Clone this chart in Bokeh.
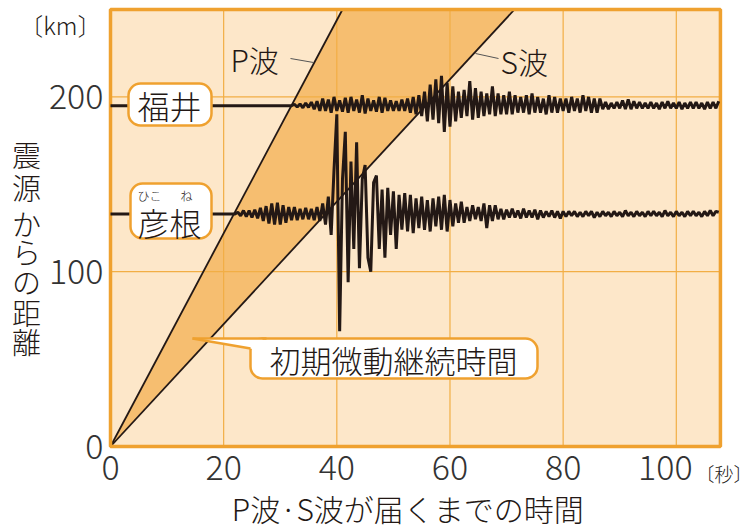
import numpy as np
from bokeh.plotting import figure
from bokeh.models import Label
from bokeh.core.properties import value
from bokeh.embed import file_html
from bokeh.resources import INLINE

# ---------------- data ----------------
x_ticks = [0, 20, 40, 60, 80, 100]
y_ticks = [0, 100, 200]
x_tick_labels = ["0", "20", "40", "60", "80", "100"]
y_tick_labels = ["0", "100", "200"]
x_max = 107.8          # seconds
y_max = 250            # km

# travel-time lines (time s, distance km)
p_wave_t = [0, 41.0]
p_wave_d = [0, 250]
s_wave_t = [0, 71.4]
s_wave_d = [0, 250]

# stations: epicentral distance (km)
station_names = ["福井", "彦根"]
station_dist = [195, 133]

# seismograms: offsets (km on the chart) sampled every 0.5 s from start time
fukui_start = 32.0
fukui_wave = [
    0, 0.8, -0.8, 1, -1.2, 1.5, -1, 2, -2, 2.5, -3, 4, -3, 3.5, -4, 5, -3, 3, -3.5, 4.5,
    -4, 5, -3, 3.5, -4, 6, -4.5, 4, -3, 3, -3.5, 5, -4, 4.5, -3, 3, -3, 2.5, -3, 3.5,
    -3, 4, -4, 5, -5, 6, -6, 8, -9, 12, -8, 15, -10, 17, -15, 13, -12, 11, -9, 8,
    -7, 9, -6, 14, -8, 10, -7, 8, -6, 7, -5, 11, -6, 7, -5, 6, -5, 8, -5, 6,
    -4, 5, -4, 6, -5, 7, -4, 5, -4, 4, -5, 6, -4, 5, -4, 4, -3, 4, -4, 5,
    -3, 4, -4, 6, -3, 5, -4, 4, -4, 4, -2, 2, -2, 1.5, -1.5, 2, -1.5, 3, -2, 3.5,
    -2, 2.5, -1.5, 2, -1.5, 1.5, -1.5, 2, -1.5, 1.5, -2, 2, -1.5, 2.5, -1.5, 1.5, -1.5, 2, -2, 1.5,
    -1.5, 2, -1.5, 2, -1.5, 1.5, -2, 2, -1.5, 2, -1.5, 2.5,
]
hikone_start = 22.0
hikone_wave = [
    0, 1, -1, 2, -1.5, 2, -2, 2.5, -2.5, 3.5, -4, 4.5, -5.5, 6, -6, 6.5, -6, 5, -5, 4,
    -3.5, 4, -3.5, 3, -3, 3.5, -3, 3, -3.5, 4, -4, 6, -6, 10, -12, 25, 57, -67, 20, 47,
    -39, 30, -20, 41, -31, 20, 28, -25, -33, 18, 22, -20, 14, -25, 15, -12, 13, -20, 11, -9,
    12, -10, 11, -11, 9, -8, 10, -9, 8, -10, 9, -7, 10, -9, 11, -10, 8, -7, 6, -5,
    7, -5, 4, -4, 5, -3, 4, -4, 6, -8, 5, -4, 5, -3, 3, -3, 2.5, -2, 3, -2,
    2, -2.5, 3, -2, 2, -2, 2.5, -3, 2, -2, 1.5, -1.5, 2, -2, 1.5, -2.5, 1.5, -1.5, 1.5, -1,
    1.5, -1.5, 1, -1.5, 1.5, -1, 1.5, -2, 1, -1.5, 1.5, -1, 1, -1.5, 1.5, -1, 1, -1.5, 2, -1,
    1, -1.5, 1.5, -1, 1, -1.5, 1.5, -1, 1.5, -1, 1, -1.5, 2, -1, 1, -1.5, 1.5, -1, 1, -1.5,
    1.5, -1, 1.5, -1, 1, -1.5, 1.5, -1, 2, -1, 1.5, 1,
]

# ---------------- styling ----------------
BG = "#FDE7C9"
FILL = "#F6BE70"
ORANGE = "#EFA12F"
GRID = "#F2AE45"
INK = "#231815"
FONT = "'Noto Sans CJK JP Light', 'Noto Sans CJK JP'"

W, H = 752, 529
X0, XS = 110, 5.658    # pixel of t=0, pixels per second
Y0, YS = 446, 1.748    # pixel of 0 km, pixels per km

def tx(px):
    return (px - X0) / XS

def ky(py):
    return (Y0 - py) / YS

p = figure(width=W, height=H, x_range=(tx(0), tx(W)), y_range=(ky(H), ky(0)),
           output_backend="svg", toolbar_location=None,
           x_axis_location=None, y_axis_location=None,
           min_border=0, min_border_left=0, min_border_right=0,
           min_border_top=0, min_border_bottom=0)
p.background_fill_color = "white"
p.border_fill_color = "white"
p.outline_line_color = None
p.grid.grid_line_color = None

# plot area
p.quad(left=[0], right=[x_max], bottom=[0], top=[y_max], fill_color=BG, line_color=None)

# shaded band between P and S lines (S-P time)
band_x = [p_wave_t[0], p_wave_t[1], s_wave_t[1]]
band_y = [p_wave_d[0], p_wave_d[1], s_wave_d[1]]
p.patch(band_x, band_y, fill_color=FILL, line_color=None)

# grid
gx = x_ticks[1:]
p.segment(x0=gx, x1=gx, y0=[0] * len(gx), y1=[y_max] * len(gx), line_color=GRID, line_width=1.2)
gy = y_ticks[1:]
p.segment(x0=[0] * len(gy), x1=[x_max] * len(gy), y0=gy, y1=gy, line_color=GRID, line_width=1.2)

p.line(p_wave_t, p_wave_d, line_color=INK, line_width=1.8)
p.line(s_wave_t, s_wave_d, line_color=INK, line_width=1.8)

# frame
p.quad(left=[0], right=[x_max], bottom=[0], top=[y_max], fill_color=None,
       line_color=ORANGE, line_width=3.5)

# tick labels (last x label sits a little left to make room for the unit)
x_lab_offsets = [0] * (len(x_ticks) - 1) + [-11]
p.text(x=x_ticks, y=[ky(467)] * len(x_ticks), text=x_tick_labels, x_offset=x_lab_offsets,
       text_align="center", text_baseline="middle", text_font=value(FONT),
       text_font_size="34px", text_color="#333333")
p.text(x=[tx(103)] * len(y_ticks), y=y_ticks, text=y_tick_labels, text_align="right",
       text_baseline="middle", text_font=value(FONT), text_font_size="34px", text_color="#333333")

# seismograms
def trace(start, wave, base):
    t = start + 0.5 * np.arange(len(wave))
    xs = np.concatenate([[0.0], t])
    ys = np.concatenate([[base], base + np.array(wave, dtype=float)])
    return xs, ys

for start, wave, base in [(fukui_start, fukui_wave, station_dist[0]),
                          (hikone_start, hikone_wave, station_dist[1])]:
    xs, ys = trace(start, wave, base)
    p.line(xs, ys, line_color=INK, line_width=3)

# station boxes
p.quad(left=[tx(128), tx(130)], right=[tx(211), tx(211)],
       bottom=[ky(125), ky(238)], top=[ky(83), ky(183)],
       fill_color="white", line_color=ORANGE, line_width=2.5, border_radius=12)

def lab(x, y, text, size, align="center", color=INK, font=FONT, baseline="middle"):
    p.add_layout(Label(x=x, y=y, text=text, text_align=align, text_baseline=baseline,
                       text_font=font, text_font_size=size, text_color=color))

lab(tx(169), ky(104), station_names[0], "32px")
lab(tx(169), ky(221), station_names[1], "32px")
lab(tx(149), ky(195), "ひこ", "12px")
lab(tx(186), ky(195), "ね", "12px")

# wave labels with leaders
lab(tx(230), ky(58), "P波", "30px", align="left")
p.line([tx(290), tx(313)], [ky(58), ky(62)], line_color="#555555", line_width=1)
lab(tx(500), ky(60), "S波", "30px", align="left")
p.line([tx(475), tx(498)], [ky(53), ky(58)], line_color="#555555", line_width=1)

# S-P time callout
p.quad(left=[tx(250)], right=[tx(537)], bottom=[ky(378)], top=[ky(338)],
       fill_color="white", line_color=ORANGE, line_width=2.5, border_radius=12)
p.patch([tx(192), tx(262), tx(262), tx(250)], [ky(338), ky(338), ky(352), ky(348)],
        fill_color="white", line_color=None)
p.line([tx(192), tx(266)], [ky(338), ky(338)], line_color=ORANGE, line_width=2.5)
p.line([tx(192), tx(250)], [ky(338), ky(348)], line_color=ORANGE, line_width=2.5)
lab(tx(393), ky(359), "初期微動継続時間", "31px")

# axis titles / units
lab(tx(101), ky(24), "〔km〕", "24px", align="right")
lab(tx(695), ky(473), "〔秒〕", "19px", align="left")
lab(tx(407), ky(507), "P波·S波が届くまでの時間", "30px")
for ch, cy in zip("震源からの距離", [153, 186, 222, 250, 280, 311, 340]):
    lab(tx(26), ky(cy), ch, "29px")

with open("out.html", "w") as f:
    f.write(file_html(p, INLINE))
